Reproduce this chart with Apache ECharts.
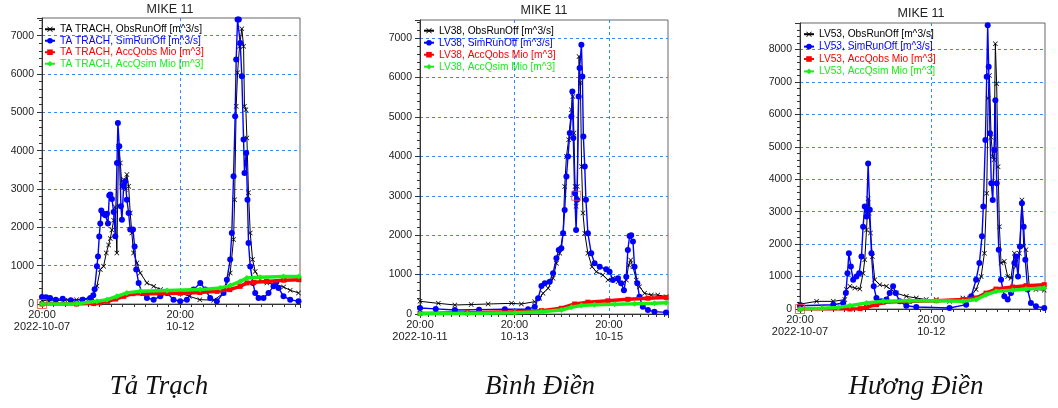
<!DOCTYPE html>
<html><head><meta charset="utf-8">
<script src="https://cdn.jsdelivr.net/npm/echarts@6/dist/echarts.min.js"></script>
<style>html,body{margin:0;padding:0;background:#fff}#c{width:1058px;height:408px}</style>
</head><body><div id="c"></div>
<script>
// ---------- Tả Trạch (hours since 2022-10-07 20:00) ----------
const taTrachStation = 'TA TRACH';
const taTrachCaption = 'Tả Trạch';
const taTrachXTicks = [0, 120];
const taTrachXLabels = ['20:00\n2022-10-07', '20:00\n10-12'];
const taTrachObs = [[0,100],[6,80],[12,90],[20,100],[30,110],[38,130],[44,140],[47.7,470],[50.6,900],[53.5,985],[55.8,1330],[57.8,1540],[59.3,1710],[60.7,1930],[62.2,2185],[63.6,2530],[65,1330],[66.5,4115],[68,3680],[69.4,3070],[70.9,3245],[72.3,2985],[73.7,3375],[75.2,3070],[76.6,2375],[78,1850],[79.5,1330],[82.4,1070],[85.3,810],[91,550],[97,460],[103,375],[108.5,330],[120,290],[128,200],[137,113],[149,100],[158,290],[163.4,810],[166.3,1680],[167.2,2720],[168.6,5160],[169.8,6030],[171.5,6725],[173.5,7180],[175,6725],[175.8,5160],[177,5070],[177.9,4330],[179.3,2900],[180.8,1850],[182.8,1160],[185.1,850],[189.4,635],[195.2,550],[203.9,500],[209.7,445],[215.5,357],[222.7,290]];
const taTrachSim = [[0,180],[3.5,175],[7,157],[12,113],[18,139],[25,96],[35,113],[42,157],[44.5,230],[45.7,385],[47.7,985],[48.6,1240],[49.7,1760],[50.6,2100],[51.5,2440],[53,2356],[55,2314],[56.4,2356],[57.3,2100],[58.4,2828],[59.3,2853],[60.7,2742],[62.2,2400],[63.6,1770],[65.1,3680],[65.9,4720],[67.1,4115],[68.5,2550],[69.4,2200],[70.9,3070],[72.3,3200],[73.7,2720],[75.2,2375],[76.6,1940],[79,1940],[80.4,1500],[81.8,900],[83.9,550],[86.8,290],[91.1,157],[96.9,113],[102.7,200],[108.5,290],[114.2,113],[120,70],[125.8,113],[131.6,375],[137.4,550],[141.7,375],[146,157],[151.8,70],[157.6,290],[160.5,635],[163.4,1160],[164.8,1850],[166.3,3330],[167.7,4900],[168.6,6380],[169.8,7420],[170.9,7420],[172.1,6810],[173.5,5940],[175,4290],[175.8,3420],[177.3,3940],[178.4,2720],[179.3,1590],[180.8,980],[183.1,550],[185.1,290],[188,157],[192.3,157],[196.7,290],[201,460],[203.3,570],[205.3,420],[209.7,200],[215.5,113],[222.7,70]];
const taTrachAccObs = [[0,0],[30,0],[45,10],[50,30],[57,70],[64,130],[71,200],[79,270],[91,270],[120,280],[137,300],[152,330],[163,375],[172,460],[178,550],[184,565],[195,590],[210,620],[223,635]];
const taTrachAccSim = [[0,0],[30,5],[47.7,70],[56.4,113],[65,200],[73.7,290],[85.3,330],[108.5,355],[137.4,375],[154.7,420],[163.4,480],[172.1,590],[177.9,680],[189.4,700],[209.7,720],[223,720]];
const taTrachMarker = [[0,0]];

// ---------- Bình Điền (hours since 2022-10-11 20:00) ----------
const binhDienStation = 'LV38';
const binhDienCaption = 'Bình Điền';
const binhDienXTicks = [0, 48, 96];
const binhDienXLabels = ['20:00\n2022-10-11', '20:00\n10-13', '20:00\n10-15'];
const binhDienObs = [[0,322],[9.3,270],[17.7,229],[26,240],[34.6,254],[46.5,270],[51.5,254],[58.3,313],[60.8,398],[62.5,525],[65.1,652],[67.6,906],[69.3,1287],[71,1541],[72.7,2049],[73.5,3235],[74.4,3999],[75.5,4420],[76.9,5182],[77.7,5521],[78.2,4590],[78.8,3235],[79.3,2731],[79.9,3235],[80.8,6536],[81.5,5859],[82.1,3743],[82.8,2562],[83.7,2049],[85.3,1541],[87.4,1198],[89.6,1075],[92.9,990],[95.5,863],[98,905],[100.6,821],[103.1,779],[104.8,863],[106,1245],[107,1372],[108.2,1198],[109.9,863],[111.5,694],[114.1,525],[117.5,483],[120.8,483],[125,440]];
const binhDienSim = [[0,152],[8,130],[17.7,102],[30,110],[43.1,119],[54.9,119],[58.3,186],[60,398],[61.7,711],[63.4,779],[65.9,821],[67.6,1033],[69.3,1414],[70.5,1626],[71.8,1668],[72.7,2049],[73.5,2642],[74.4,3490],[75.2,3999],[76.1,4590],[76.9,5012],[77.4,5648],[77.9,4463],[78.6,3065],[79.3,2134],[79.8,2900],[80.6,5521],[81.1,6240],[82,6832],[82.5,6029],[83,4505],[83.7,3743],[84.3,2900],[85.3,2049],[87,1541],[88.7,1287],[91.3,1198],[94.6,1135],[96.3,1075],[98,863],[100.6,905],[102.2,779],[103.6,600],[104.8,948],[105.6,1626],[106.5,1980],[107.3,2000],[108.2,1838],[109,1198],[110.4,779],[111.5,440],[113.2,186],[115.8,102],[119.1,60],[125,40]];
const binhDienAccObs = [[0,15],[24,30],[48.2,60],[61.7,85],[71.8,145],[78.6,254],[85.3,300],[95.5,335],[105.6,372],[115.8,400],[125,420]];
const binhDienAccSim = [[0,5],[24,15],[48.2,34],[61.7,59],[71.8,102],[76.9,170],[82,215],[88.7,235],[98.9,250],[109,262],[119.1,275],[125,285]];
const binhDienMarker = [[79.4,3000]];

// ---------- Hương Điền (hours since 2022-10-07 20:00) ----------
const huongDienStation = 'LV53';
const huongDienCaption = 'Hương Điền';
const huongDienXTicks = [0, 120];
const huongDienXLabels = ['20:00\n2022-10-07', '20:00\n10-12'];
const huongDienObs = [[0,150],[15.2,236],[30.4,236],[41,290],[42.5,600],[45.6,700],[50.1,645],[54.7,615],[57.7,1100],[59.2,1520],[60.8,2440],[62.3,3400],[63.2,2950],[64.4,2340],[66.2,1620],[68.4,900],[72.9,750],[79,700],[88.1,490],[97.2,390],[106.3,340],[115.4,290],[124.6,290],[136.7,236],[148.9,340],[154.9,340],[161,600],[165.6,1000],[168.6,1720],[170.7,3570],[172,6500],[173.2,7200],[174.7,5300],[176.2,4700],[177.4,4600],[178.6,8180],[179.8,6950],[181.1,4390],[182.3,2540],[183.8,1415],[186.8,1470],[189.9,1000],[192.9,950],[196,1720],[197.5,1310],[200.5,1720],[202.9,3360],[204.5,1930],[206.6,1825],[209.6,700],[215.7,600],[223.3,580]];
const huongDienSim = [[0,100],[30.4,133],[39.5,185],[41.9,490],[43.4,1100],[44.7,1720],[46.5,1310],[48.6,900],[51.6,1000],[54.1,1100],[56.2,1620],[57.7,2540],[59.2,3160],[60.8,2850],[62.3,4490],[63.8,3060],[65.3,1720],[67.4,700],[69.9,340],[74.4,236],[79,290],[82,490],[85.1,700],[87.5,490],[91.1,236],[97.2,100],[106.3,60],[136.7,30],[151.9,133],[156.5,390],[161,900],[164,1415],[166.4,2240],[167.6,3160],[169.5,5210],[170.7,7160],[171.6,8750],[172.5,7470],[173.7,5420],[174.9,3880],[176.2,3360],[177.7,4900],[178.6,6440],[179.8,3880],[181.7,1830],[183.8,900],[186.8,390],[189.9,290],[192.9,490],[196,1415],[197.5,1620],[199.3,1000],[201.1,1930],[202.9,3260],[204.5,2540],[206,1520],[208.1,600],[211.1,185],[215.7,82],[223.3,30]];
const huongDienAccObs = [[0,0],[45.6,0],[55,10],[60.8,60],[70,133],[76,205],[100.3,236],[124.6,256],[148.9,290],[161,340],[170.1,490],[179.2,615],[194.4,680],[206.6,720],[223.3,750]];
const huongDienAccSim = [[0,0],[20,20],[35,50],[45.6,100],[60.8,185],[76,236],[100.3,256],[124.6,256],[148.9,236],[161,290],[170.1,440],[179.2,545],[194.4,575],[206.6,615],[223.3,645]];
const huongDienMarker = [[0,0]];

// ---------- layout & style ----------
const seriesSuffix = ['ObsRunOff [m^3/s]', 'SimRunOff [m^3/s]', 'AccQobs Mio [m^3]', 'AccQsim Mio [m^3]'];
const colors = ['#000000', '#0000ff', '#ff0000', '#18ee18'];
const xSymbol = 'path://M0,1L1,0L5,4L9,0L10,1L6,5L10,9L9,10L5,6L1,10L0,9L4,5Z';
const symbols = [xSymbol, 'circle', 'rect', 'diamond'];
const symbolSizes = [5, 6, 5, 6];
const lineWidths = [1, 1.4, 3.5, 3.5];

const panels = [
  {station: taTrachStation, caption: taTrachCaption, xTicks: taTrachXTicks, xLabels: taTrachXLabels,
   data: [taTrachObs, taTrachSim, taTrachAccObs, taTrachAccSim], marker: taTrachMarker,
   grid: {left: 42, top: 18, width: 258, height: 286}, xMax: 224, xInt: 120, yMax: 7460,
   legend: {left: 44, top: 23.5, row: 11.5}, titleX: 170, titleY: 10, capX: 159},
  {station: binhDienStation, caption: binhDienCaption, xTicks: binhDienXTicks, xLabels: binhDienXLabels,
   data: [binhDienObs, binhDienSim, binhDienAccObs, binhDienAccSim], marker: binhDienMarker,
   grid: {left: 420, top: 20, width: 248, height: 294}, xMax: 126, xInt: 48, yMax: 7460,
   legend: {left: 423, top: 24.7, row: 12}, titleX: 544, titleY: 11, capX: 540},
  {station: huongDienStation, caption: huongDienCaption, xTicks: huongDienXTicks, xLabels: huongDienXLabels,
   data: [huongDienObs, huongDienSim, huongDienAccObs, huongDienAccSim], marker: huongDienMarker,
   grid: {left: 800, top: 23, width: 245, height: 286}, xMax: 224, xInt: 120, yMax: 8820,
   legend: {left: 803, top: 28, row: 12.4}, titleX: 921, titleY: 14, capX: 916}
];

const grid = [], xAxis = [], yAxis = [], series = [], legend = [], graphic = [];
const gridLineStyle = {color: '#2d8cff', type: [3, 3], width: 1};
panels.forEach((p, i) => {
  grid.push(Object.assign({show: true, borderColor: '#666', borderWidth: 1, backgroundColor: 'transparent'}, p.grid));
  xAxis.push({
    type: 'value', gridIndex: i, min: 0, max: p.xMax, interval: p.xInt,
    axisLine: {show: true, onZero: false, lineStyle: {color: '#333'}},
    axisTick: {show: true, length: 4, lineStyle: {color: '#333'}},
    minorTick: {show: true, splitNumber: 12, length: 3, lineStyle: {color: '#333'}},
    splitLine: {show: true, showMinLine: false, showMaxLine: false, lineStyle: gridLineStyle},
    axisLabel: {
      fontFamily: 'Liberation Sans', fontSize: 11, color: '#222', margin: 5, lineHeight: 12,
      showMaxLabel: false,
      formatter: v => { const k = p.xTicks.indexOf(v); return k >= 0 ? p.xLabels[k] : ''; }
    }
  });
  yAxis.push({
    type: 'value', gridIndex: i, min: 0, max: p.yMax, interval: 1000,
    axisLine: {show: true, lineStyle: {color: '#333'}},
    axisTick: {show: true, length: 5, lineStyle: {color: '#333'}},
    minorTick: {show: true, splitNumber: 5, length: 3, lineStyle: {color: '#333'}},
    splitLine: {show: true, showMinLine: false, showMaxLine: false, lineStyle: gridLineStyle},
    axisLabel: {fontFamily: 'Liberation Sans', fontSize: 10.5, color: '#222', margin: 8, showMaxLabel: false,
      formatter: v => (v % 1000 === 0 ? String(v) : '')}
  });
  const names = seriesSuffix.map(s => p.station + ', ' + s);
  names.forEach((n, k) => {
    series.push({
      type: 'line', name: n, xAxisIndex: i, yAxisIndex: i, data: p.data[k],
      symbol: symbols[k], symbolSize: symbolSizes[k], showSymbol: true, showAllSymbol: true,
      lineStyle: {color: colors[k], width: lineWidths[k]}, itemStyle: {color: colors[k]},
      z: 2 + k, animation: false
    });
  });
  series.push({
    type: 'scatter', name: 'sel' + i, xAxisIndex: i, yAxisIndex: i, data: p.marker,
    symbol: 'rect', symbolSize: 9, silent: true, clip: false, z: 20, animation: false,
    itemStyle: {color: 'rgba(255,255,255,0)', borderColor: '#ff4040', borderWidth: 1}
  });
  legend.push({
    orient: 'vertical', left: p.legend.left, top: p.legend.top, padding: 0, itemGap: 0,
    itemWidth: 10, itemHeight: 7, selectedMode: false,
    textStyle: {fontFamily: 'Liberation Sans', fontSize: 10.2, lineHeight: p.legend.row, padding: 0},
    data: names.map((n, k) => ({name: n, textStyle: {color: colors[k]}}))
  });
  graphic.push({type: 'text', x: p.titleX, y: p.titleY, silent: true,
    style: {text: 'MIKE 11', align: 'center', verticalAlign: 'middle', font: '12.5px "Liberation Sans"', fill: '#222'}});
  graphic.push({type: 'text', x: p.capX, y: 387, silent: true,
    style: {text: p.caption, align: 'center', verticalAlign: 'middle', font: 'italic 27px "Liberation Serif"', fill: '#111'}});
});

const chart = echarts.init(document.getElementById('c'), null, {renderer: 'canvas'});
chart.setOption({animation: false, backgroundColor: '#fff', grid, xAxis, yAxis, series, legend, graphic});
</script>
</body></html>
